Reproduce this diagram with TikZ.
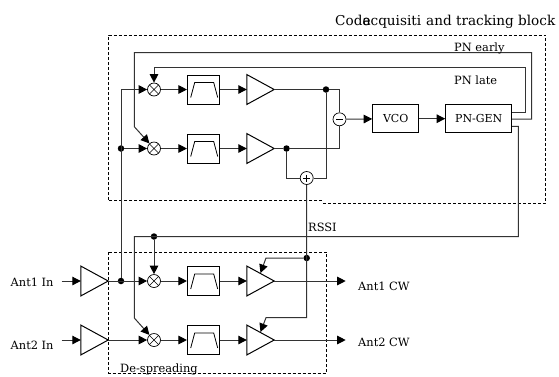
\documentclass[tikz,border=0pt]{standalone}
\usepackage{fontspec}
\setmainfont{DejaVu Serif}
\usetikzlibrary{arrows.meta,calc}
\tikzset{
  wire/.style={line width=1pt,draw=black!80},
  arr/.style={wire,-{Triangle[length=8.5pt,width=8.5pt,color=black]}},
  boxdash/.style={line width=0.8pt,dashed,dash pattern=on 3pt off 2pt},
  dot/.style={circle,fill=black,inner sep=0pt,minimum size=6.5pt},
  blk/.style={draw,line width=1pt,inner sep=0pt},
  mix/.style={circle,draw,line width=0.7pt,inner sep=0pt,minimum size=13pt,fill=white},
  mult/.style={mix,path picture={\draw[line width=0.6pt] (path picture bounding box.north west)--(path picture bounding box.south east) (path picture bounding box.north east)--(path picture bounding box.south west);}},
  filt/.style={blk,minimum width=32.5pt,minimum height=29pt,path picture={\draw[line width=0.8pt] ($(path picture bounding box.center)+(-13,8)$)--++(4,-15)--++(19,0)--++(4,15);}},
  ampb/.style={inner sep=0pt,minimum width=27pt,minimum height=29.5pt},
  lbl/.style={inner sep=0pt,font=\fontsize{11.4pt}{13pt}\selectfont,anchor=base west},
  ttl/.style={inner sep=0pt,font=\fontsize{13.6pt}{15pt}\selectfont,anchor=base west},
}
\newcommand{\ampl}[2]{\node[ampb] (#1) at (#2) {};\draw[line width=1pt] (#1.north west)--(#1.east)--(#1.south west)--cycle;}
\begin{document}
\begin{tikzpicture}[x=1pt,y=-1pt]
\useasboundingbox (0,0) rectangle (559,376);
% dashed blocks
\draw[boxdash] (108.5,200)--(108.5,35)--(545.7,35)--(545.7,203)--(322,203);
\draw[boxdash] (322,200)--(108.5,200);
\draw[boxdash] (108.5,252) rectangle (326.7,373);
% blocks
\node[mult] (m1) at (154,89.5) {};
\node[mult] (m2) at (154,148.5) {};
\node[mult] (m3) at (154,281) {};
\node[mult] (m4) at (154,340) {};
\node[filt] (f1) at (203.7,89.5) {};
\node[filt] (f2) at (203.7,148.5) {};
\node[filt] (f3) at (203.7,281) {};
\node[filt] (f4) at (203.7,340) {};
\ampl{a1}{260.5,89.5}
\ampl{a2}{260.5,148.5}
\ampl{a3}{260.5,281}
\ampl{a4}{260.5,340}
\ampl{i1}{94.5,281}
\ampl{i2}{94.5,340}
\node[mix] (sub) at (339.5,119.3) {};
\draw[line width=0.6pt] (336,119.3)--(343,119.3);
\node[mix] (add) at (306.7,178) {};
\draw[line width=0.6pt] (303.2,178)--(310.2,178) (306.7,174.5)--(306.7,181.5);
\node[blk,minimum width=46pt,minimum height=28.5pt,font=\fontsize{11pt}{13pt}\selectfont] (vco) at (395.7,118.7) {VCO};
\node[blk,minimum width=66pt,minimum height=28.5pt,font=\fontsize{11pt}{13pt}\selectfont] (pn) at (478.7,118.7) {PN-GEN};
% junctions
\node[dot] (j1) at (326,89.5) {};
\node[dot] (j2) at (286.5,148.5) {};
\node[dot] (j3) at (121,148.5) {};
\node[dot] (j4) at (121,281) {};
\node[dot] (j5) at (154,236.5) {};
\node[dot] (j6) at (306.7,258) {};
% bends
\coordinate (c1) at (121,89.5);
\coordinate (e1) at (134.3,52.7);
\coordinate (e2) at (134.3,126.7);
\coordinate (e3) at (531.7,52.7);
\coordinate (e4) at (531.7,119);
\coordinate (l1) at (154,67.7);
\coordinate (l2) at (525.7,67.7);
\coordinate (l3) at (525.7,112.3);
\coordinate (r1) at (518.3,126.3);
\coordinate (r2) at (518.3,236.5);
\coordinate (r3) at (134.3,236.5);
\coordinate (r4) at (134.3,318);
\coordinate (t1) at (339.5,89.5);
\coordinate (t2) at (339.5,148.5);
\coordinate (p1) at (326,178);
\coordinate (p2) at (286.5,178);
\coordinate (s1) at (306.7,317.7);
\coordinate (s2) at (266,317.7);
\coordinate (s3) at (266,258);
\coordinate (h3) at (260.5,273);
\coordinate (h4) at (260.5,332);
% top rows
\draw[arr] (j4)--(c1)--(m1);
\draw[arr] (j3)--(m2);
\draw[arr] (m1)--(f1);
\draw[arr] (m2)--(f2);
\draw[arr] (f1)--(a1.west);
\draw[arr] (f2)--(a2.west);
\draw[wire] (a1.east)--(j1)--(t1)--(sub);
\draw[wire] (a2.east)--(j2)--(t2)--(sub);
\draw[wire] (j1)--(p1)--(add);
\draw[wire] (j2)--(p2)--(add);
\draw[arr] (sub)--(vco);
\draw[arr] (vco)--(pn);
% PN lines
\draw[arr] (pn.east|-e4)--(e4)--(e3)--(e1)--(e2)--(m2);
\draw[arr] (pn.east|-l3)--(l3)--(l2)--(l1)--(m1);
\draw[arr] (pn.east|-r1)--(r1)--(r2)--(r3)--(r4)--(m4);
\draw[arr] (j5)--(m3);
% RSSI
\draw[arr] (add)--(s1)--(s2)--(h4);
\draw[arr] (j6)--(s3)--(h3);
% bottom rows
\coordinate (in1) at (61.7,281);
\coordinate (in2) at (61.7,340);
\coordinate (o1) at (345.7,281);
\coordinate (o2) at (345.7,340);
\draw[arr] (in1)--(i1.west);
\draw[arr] (in2)--(i2.west);
\draw[arr] (i1.east)--(m3);
\draw[arr] (i2.east)--(m4);
\draw[arr] (m3)--(f3);
\draw[arr] (m4)--(f4);
\draw[arr] (f3)--(a3.west);
\draw[arr] (f4)--(a4.west);
\draw[arr] (a3.east)--(o1);
\draw[arr] (a4.east)--(o2);
% labels
\node[ttl] (t) at (335,25) {Code\hspace{-8pt}acquisiti\hspace{5pt}and tracking block};
\node[lbl] (pe) at (454,51) {PN early};
\node[lbl] (pl) at (454,84) {PN late};
\node[lbl] (rs) at (308,231) {RSSI};
\node[lbl] (li1) at (10.5,286) {Ant1 In};
\node[lbl] (li2) at (10.5,349) {Ant2 In};
\node[lbl] (lo1) at (358,290) {Ant1 CW};
\node[lbl] (lo2) at (358,346) {Ant2 CW};
\node[lbl] (ds) at (120,372) {De-spreading};
\end{tikzpicture}
\end{document}
